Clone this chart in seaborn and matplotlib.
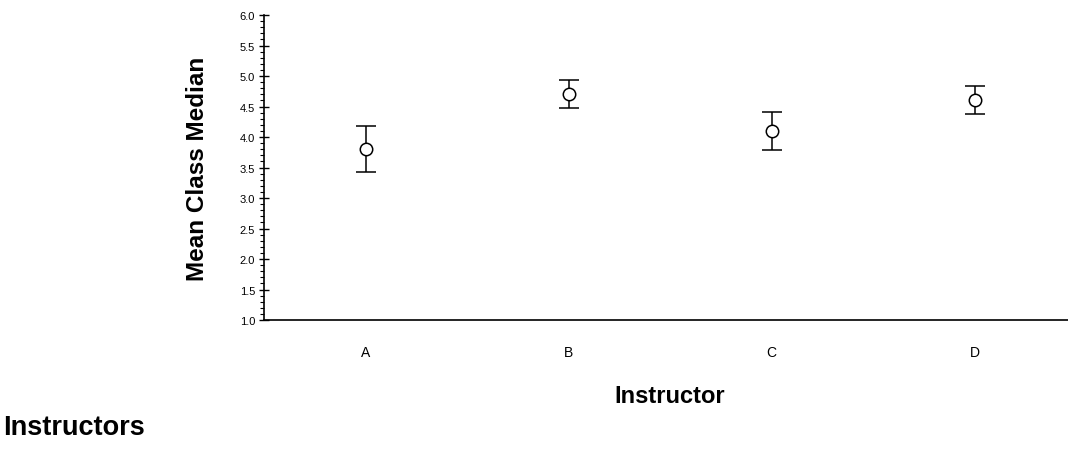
import matplotlib
matplotlib.use("Agg")
import matplotlib.pyplot as plt
import seaborn as sns
import pandas as pd
import numpy as np
from matplotlib.ticker import MultipleLocator, FormatStrFormatter

# Data
instructors = ["A", "B", "C", "D"]
mean_median = [3.8, 4.7, 4.1, 4.6]
error = [0.38, 0.23, 0.31, 0.23]

sns.set_theme(style="white")
plt.rcParams["font.family"] = ["Liberation Sans", "DejaVu Sans"]

df = pd.DataFrame({"Instructor": instructors, "Mean": mean_median, "Err": error})

fig = plt.figure(figsize=(10.68, 4.52), dpi=100)
ax = fig.add_axes([0.2472, 0.2898, 0.7603, 0.6748])

sns.scatterplot(data=df, x="Instructor", y="Mean", ax=ax, marker="o", s=80,
                facecolor="white", edgecolor="black", linewidth=1.1, zorder=3,
                legend=False)
ax.errorbar(np.arange(len(instructors)), df["Mean"], yerr=df["Err"], fmt="none",
            ecolor="black", elinewidth=1.1, capsize=7, capthick=1.1, zorder=2)

ax.set_xlim(-0.5, len(instructors) - 0.5)
ax.set_ylim(1.0, 6.0)
ax.yaxis.set_major_locator(MultipleLocator(0.5))
ax.yaxis.set_minor_locator(MultipleLocator(0.1))
ax.yaxis.set_major_formatter(FormatStrFormatter("%.1f"))

# x ticks at category boundaries, labels at centers
ax.set_xticks(np.arange(len(instructors) + 1) - 0.5)
ax.set_xticklabels([])
ax.set_xticks(np.arange(len(instructors)), minor=True)
ax.set_xticklabels(instructors, minor=True)
ax.tick_params(axis="x", which="major", direction="out", length=5, width=1, color="black")
ax.tick_params(axis="x", which="minor", length=0, pad=18, labelsize=10, labelcolor="black")
ax.tick_params(axis="y", which="major", direction="inout", length=7, width=1,
               color="black", labelsize=8, labelcolor="black", pad=3, left=True)
ax.tick_params(axis="y", which="minor", direction="out", length=3, width=0.8,
               color="black", left=True)

for side in ["top", "right"]:
    ax.spines[side].set_visible(False)
for side in ["left", "bottom"]:
    ax.spines[side].set_color("black")
    ax.spines[side].set_linewidth(1.2)

ax.set_xlabel("Instructor", fontsize=17, fontweight="bold", labelpad=18, color="black")
ax.set_ylabel("Mean Class Median", fontsize=17.5, fontweight="bold", labelpad=22, color="black")

fig.text(3 / 1068, 1 - 428 / 452, "Instructors", fontsize=19.5, fontweight="bold",
         va="center", ha="left", color="black")

fig.savefig("out.png", dpi=100)
